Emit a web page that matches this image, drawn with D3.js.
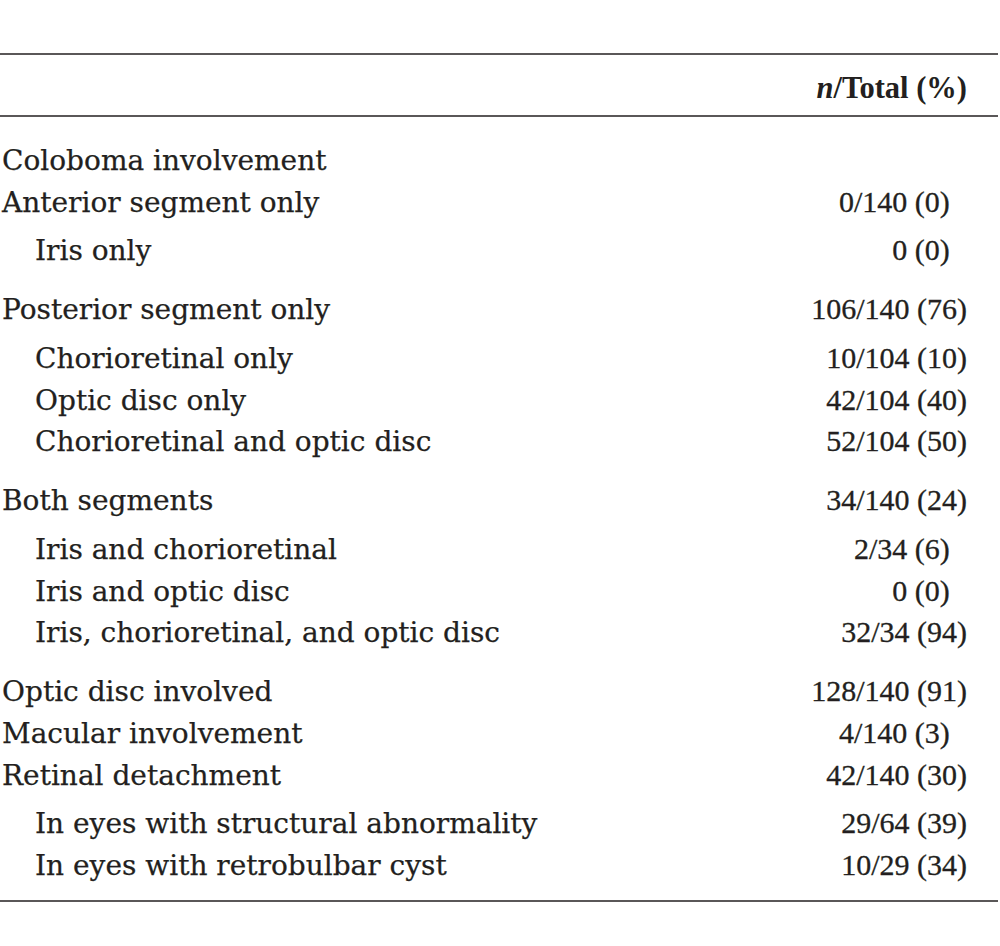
<!DOCTYPE html>
<html>
<head>
<meta charset="utf-8">
<script src="https://cdn.jsdelivr.net/npm/d3@7"></script>
<style>
  html, body { margin: 0; padding: 0; background: #fff; }
  svg { display: block; }
</style>
</head>
<body>
<script>
// ---- data ----
const rowLabels = [
  "Coloboma involvement",
  "Anterior segment only",
  "Iris only",
  "Posterior segment only",
  "Chorioretinal only",
  "Optic disc only",
  "Chorioretinal and optic disc",
  "Both segments",
  "Iris and chorioretinal",
  "Iris and optic disc",
  "Iris, chorioretinal, and optic disc",
  "Optic disc involved",
  "Macular involvement",
  "Retinal detachment",
  "In eyes with structural abnormality",
  "In eyes with retrobulbar cyst"
];
const rowLevels   = [0, 0, 1, 0, 1, 1, 1, 0, 1, 1, 1, 0, 0, 0, 1, 1];
const numerators  = [null, 0, 0, 106, 10, 42, 52, 34, 2, 0, 32, 128, 4, 42, 29, 10];
const totals      = [null, 140, null, 140, 104, 104, 104, 140, 34, null, 34, 140, 140, 140, 64, 29];
const percents    = [null, 0, 0, 76, 10, 40, 50, 24, 6, 0, 94, 91, 3, 30, 39, 34];
const headerItalic = "n";
const headerRest   = "/Total (%)";

// ---- layout ----
const W = 1000, H = 946;
const svg = d3.select("body").append("svg").attr("width", W).attr("height", H);
const ink = "#231f20";

// vertical units: base pitch 1, extra gap when moving into / out of sub rows
const units = [];
let u = 0;
rowLevels.forEach((lv, i) => {
  if (i > 0) {
    u += 1;
    const prev = rowLevels[i - 1];
    if (lv === 1 && prev === 0) u += 7 / 41.7;
    if (lv === 0 && prev === 1) u += 17.2 / 41.7;
  }
  units.push(u);
});
const y = d3.scaleLinear().domain([0, units[units.length - 1]]).range([170, 875]);
const x = d3.scaleOrdinal().domain([0, 1]).range([2, 35]);
const rightX = 967;

// rules
const rules = [54, 116, 901];
svg.selectAll("line.rule").data(rules).join("line")
  .attr("class", "rule")
  .attr("x1", 0).attr("x2", 998)
  .attr("y1", d => d).attr("y2", d => d)
  .attr("stroke", ink).attr("stroke-width", 1.5);

// header
const head = svg.append("text")
  .attr("x", rightX).attr("y", 98)
  .attr("text-anchor", "end")
  .attr("font-family", "'Liberation Serif', 'Times New Roman', serif")
  .attr("font-size", 30.5).attr("font-weight", "bold")
  .attr("fill", ink);
head.append("tspan").attr("font-style", "italic").text(headerItalic);
head.append("tspan").text(headerRest);

// labels
svg.selectAll("text.label").data(rowLabels).join("text")
  .attr("class", "label")
  .attr("x", (d, i) => x(rowLevels[i]))
  .attr("y", (d, i) => y(units[i]))
  .attr("font-family", "'DejaVu Serif', serif")
  .attr("font-size", 28)
  .attr("fill", ink)
  .attr("stroke", ink).attr("stroke-width", 0.25)
  .text(d => d);

// digit width for alignment of single-digit percentages
const probe = svg.append("text")
  .attr("font-family", "'Liberation Serif', serif").attr("font-size", 30).text("0");
const digitW = probe.node().getComputedTextLength();
probe.remove();

const valueRows = d3.range(rowLabels.length).filter(i => numerators[i] !== null);
svg.selectAll("text.value").data(valueRows).join("text")
  .attr("class", "value")
  .attr("x", i => rightX - (percents[i] < 10 ? digitW * 1.15 : 0))
  .attr("y", i => y(units[i]))
  .attr("text-anchor", "end")
  .attr("font-family", "'Liberation Serif', 'Times New Roman', serif")
  .attr("font-size", 30)
  .attr("fill", ink)
  .attr("stroke", ink).attr("stroke-width", 0.3)
  .text(i => (totals[i] !== null ? `${numerators[i]}/${totals[i]}` : `${numerators[i]}`) + ` (${percents[i]})`);
</script>
</body>
</html>
